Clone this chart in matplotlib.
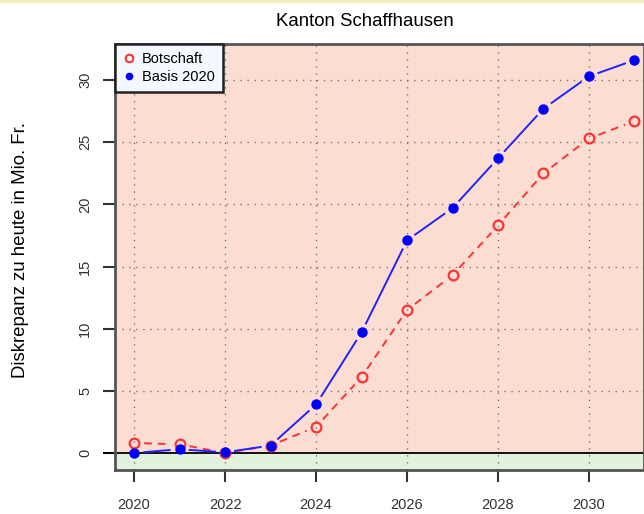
import numpy as np
import matplotlib.pyplot as plt
from matplotlib.lines import Line2D

plt.rcParams['font.family'] = ['Liberation Sans', 'DejaVu Sans']

years = [2020, 2021, 2022, 2023, 2024, 2025, 2026, 2027, 2028, 2029, 2030, 2031]
botschaft = [0.8, 0.7, 0.0, 0.6, 2.1, 6.1, 11.5, 14.3, 18.3, 22.5, 25.3, 26.7]
basis = [0.0, 0.3, 0.05, 0.6, 3.9, 9.7, 17.1, 19.7, 23.7, 27.7, 30.3, 31.6]
xticks = [2020, 2022, 2024, 2026, 2028, 2030]
yticks = [0, 5, 10, 15, 20, 25, 30]

fig = plt.figure(figsize=(6.44, 5.14), dpi=100)
ax = fig.add_axes([115 / 644, 44 / 514, 1 - 115 / 644, 426 / 514])
ax.set_xlim(2019.58, 2031.21)
ax.set_ylim(-1.37, 32.9)

# background zones
ax.axhspan(0, 40, color='#fcddd2', zorder=0)
ax.axhspan(-5, 0, color='#e3f2dc', zorder=0)

for x in xticks:
    ax.axvline(x, color='#777777', lw=1, ls=(0, (1, 4)), zorder=1)
for y in yticks[1:]:
    ax.axhline(y, color='#777777', lw=1, ls=(0, (1, 4)), zorder=1)
ax.plot([-0.02, 1], [1.37 / 34.27] * 2, transform=ax.transAxes, color='black',
        lw=1.3, clip_on=False, zorder=2)


def gapped(xs, ys, gap, **kw):
    # R type="b": line segments stop short of the points
    pts = ax.transData.transform(np.column_stack([xs, ys]))
    inv = ax.transData.inverted()
    for p, q in zip(pts[:-1], pts[1:]):
        d = q - p
        n = np.hypot(*d)
        if n <= 2 * gap:
            continue
        u = d / n
        seg = inv.transform(np.array([p + u * gap, q - u * gap]))
        ax.plot(seg[:, 0], seg[:, 1], **kw)


gapped(years, botschaft, 10, color='#ff3333', ls=(0, (4, 3)), lw=1.4, zorder=3)
gapped(years, basis, 10, color='#2222ff', lw=1.4, zorder=4)
ax.plot(years, botschaft, ls='none', marker='o', ms=7, mfc='none', mec='#ff3333',
        mew=1.6, zorder=3)
ax.plot(years, basis, ls='none', marker='o', ms=6.5, mfc='#0000ff', mec='#0000ff',
        zorder=4)

ax.set_xticks(xticks)
ax.set_yticks(yticks)
ax.tick_params(axis='x', length=8.5, width=1.5, pad=12, labelsize=10.5, color='#333333')
ax.tick_params(axis='y', length=8.5, width=1.5, pad=8, labelsize=10.5, color='#333333',
               labelrotation=90)
for lbl in ax.get_yticklabels():
    lbl.set_va('center')
for lbl in ax.get_xticklabels() + ax.get_yticklabels():
    lbl.set_color('#333333')
for s in ax.spines.values():
    s.set_color('#555555')
    s.set_linewidth(2)

fig.text(21 / 644, 1 - 250 / 514, 'Diskrepanz zu heute in Mio. Fr.', rotation=90,
         ha='center', va='center', fontsize=13.4)
fig.text(365 / 644, 1 - 21 / 514, 'Kanton Schaffhausen', ha='center', va='center',
         fontsize=13.4)

handles = [Line2D([], [], ls='none', marker='o', ms=5.5, mfc='none', mec='#ff3333', mew=1.5),
           Line2D([], [], ls='none', marker='o', ms=4.5, mfc='#0000ff', mec='#0000ff')]
leg = ax.legend(handles, ['Botschaft', 'Basis 2020'], loc='upper left',
                borderaxespad=0, fontsize=10.5, handlelength=0.8, handletextpad=0.5,
                borderpad=0.55, labelspacing=0.25, fancybox=False, framealpha=1)
leg.get_frame().set_facecolor('#f5f8ff')
leg.get_frame().set_edgecolor('#222222')
leg.get_frame().set_linewidth(1.8)

fig.add_artist(Line2D([0, 1], [0.998, 0.998], color='#f3ecb8', lw=2))

fig.savefig('out.png', dpi=100)
